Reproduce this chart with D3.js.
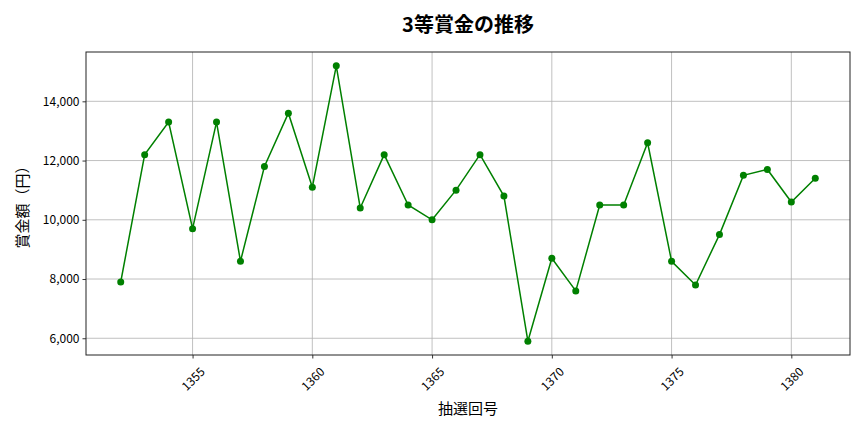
<!DOCTYPE html>
<html>
<head>
<meta charset="utf-8">
<script src="https://cdn.jsdelivr.net/npm/d3@7"></script>
<style>
  body { margin: 0; background: #fff; }
  svg text { font-family: "Noto Sans CJK JP", "Noto Sans", sans-serif; fill: #000; }
</style>
</head>
<body>
<div id="chart"></div>
<script>
const draws = [1352, 1353, 1354, 1355, 1356, 1357, 1358, 1359, 1360, 1361,
    1362, 1363, 1364, 1365, 1366, 1367, 1368, 1369, 1370, 1371,
    1372, 1373, 1374, 1375, 1376, 1377, 1378, 1379, 1380, 1381];
const prizes = [7900, 12200, 13300, 9700, 13300, 8600, 11800, 13600, 11100, 15200,
    10400, 12200, 10500, 10000, 11000, 12200, 10800, 5900, 8700, 7600,
    10500, 10500, 12600, 8600, 7800, 9500, 11500, 11700, 10600, 11400];
const xTicks = [1355, 1360, 1365, 1370, 1375, 1380];
const yTicks = [6000, 8000, 10000, 12000, 14000];

const width = 864, height = 432;
const margin = { top: 52, right: 14, bottom: 77, left: 86 };
const innerW = width - margin.left - margin.right,
    innerH = height - margin.top - margin.bottom;

const data = draws.map((d, i) => ({ draw: d, prize: prizes[i] }));

// matplotlib-style 5% padding on both axes
const xExt = d3.extent(draws), yExt = d3.extent(prizes);
const xPad = (xExt[1] - xExt[0]) * 0.05, yPad = (yExt[1] - yExt[0]) * 0.05;

const x = d3.scaleLinear()
    .domain([xExt[0] - xPad, xExt[1] + xPad])
    .range([0, innerW]);
const y = d3.scaleLinear()
    .domain([yExt[0] - yPad, yExt[1] + yPad])
    .range([innerH, 0]);

const svg = d3.select("#chart").append("svg")
    .attr("width", width)
    .attr("height", height);

const g = svg.append("g")
    .attr("transform", "translate(" + margin.left + "," + margin.top + ")");

// grid
g.append("g")
    .selectAll("line.gx")
    .data(xTicks)
  .enter().append("line")
    .attr("x1", d => x(d)).attr("x2", d => x(d))
    .attr("y1", 0).attr("y2", innerH)
    .attr("stroke", "#b0b0b0").attr("stroke-width", 0.8);
g.append("g")
    .selectAll("line.gy")
    .data(yTicks)
  .enter().append("line")
    .attr("x1", 0).attr("x2", innerW)
    .attr("y1", d => y(d)).attr("y2", d => y(d))
    .attr("stroke", "#b0b0b0").attr("stroke-width", 0.8);

// axes
const xAxis = g.append("g")
    .attr("transform", "translate(0," + innerH + ")")
    .call(d3.axisBottom(x).tickValues(xTicks).tickFormat(d3.format("d")).tickSize(3.5).tickPadding(3));
xAxis.selectAll("text")
    .style("font-size", "12px")
    .attr("text-anchor", "end")
    .attr("dy", "0.35em")
    .attr("transform", "translate(5,10) rotate(-45)");

const yAxis = g.append("g")
    .call(d3.axisLeft(y).tickValues(yTicks).tickFormat(d3.format(",d")).tickSize(3.5).tickPadding(3));
yAxis.selectAll("text").style("font-size", "12px");

[xAxis, yAxis].forEach(a => {
    a.select(".domain").remove();
    a.selectAll("line").attr("stroke", "#000").attr("stroke-width", 0.8);
});

g.append("rect")
    .attr("width", innerW).attr("height", innerH)
    .attr("fill", "none").attr("stroke", "#222").attr("stroke-width", 1);

// line + markers
const line = d3.line()
    .x(d => x(d.draw))
    .y(d => y(d.prize));

g.append("path")
    .datum(data)
    .attr("fill", "none")
    .attr("stroke", "green")
    .attr("stroke-width", 1.5)
    .attr("d", line);

g.selectAll("circle")
    .data(data)
  .enter().append("circle")
    .attr("cx", d => x(d.draw))
    .attr("cy", d => y(d.prize))
    .attr("r", 3.5)
    .attr("fill", "green");

// labels
svg.append("text")
    .attr("x", margin.left + innerW / 2)
    .attr("y", 32)
    .attr("text-anchor", "middle")
    .style("font-size", "20px")
    .style("font-weight", "bold")
    .text("3等賞金の推移");

svg.append("text")
    .attr("x", margin.left + innerW / 2)
    .attr("y", 414)
    .attr("text-anchor", "middle")
    .style("font-size", "15px")
    .text("抽選回号");

svg.append("text")
    .attr("transform", "translate(28," + (margin.top + innerH / 2) + ") rotate(-90)")
    .attr("text-anchor", "middle")
    .style("font-size", "15px")
    .text("賞金額（円）");
</script>
</body>
</html>
